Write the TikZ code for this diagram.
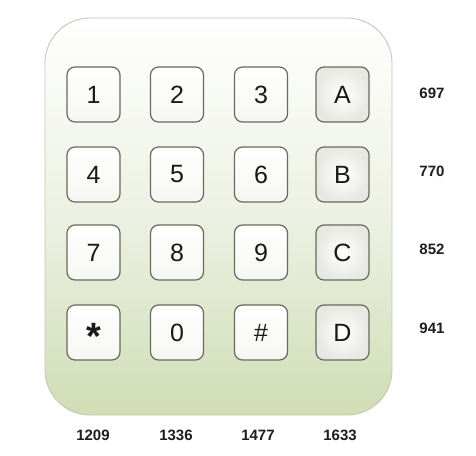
\documentclass[tikz,border=0pt]{standalone}
\usepackage{fontspec}
\setmainfont{Liberation Sans}
\begin{document}
\begin{tikzpicture}[x=1pt,y=-1pt,
  keybox/.style={draw={rgb,255:red,105;green,105;blue,95},line width=1.2pt,rounded corners=8pt,
    minimum width=53pt,minimum height=55pt,inner sep=0pt,font=\fontsize{25}{25}\selectfont,
    text={rgb,255:red,25;green,25;blue,25},
    top color=white,bottom color={rgb,255:red,246;green,246;blue,242}},
  letterkey/.style={keybox,inner color=white,outer color={rgb,255:red,232;green,232;blue,226}},
  freq/.style={font=\bfseries\fontsize{15}{15}\selectfont,text={rgb,255:red,30;green,30;blue,30}}]
\useasboundingbox (0,0) rectangle (476,455);
\fill[white] (0,0) rectangle (476,455);
\node[draw={rgb,255:red,195;green,200;blue,180},line width=0.9pt,rounded corners=45pt,
  minimum width=347pt,minimum height=397pt,
  top color=white,bottom color={rgb,255:red,208;green,221;blue,182},
  middle color={rgb,255:red,236;green,241;blue,226}] (pad) at (218.5,216.5) {};
\foreach \t/\n/\x/\y in {1/k1/93.5/94.5, 2/k2/177/94.5, 3/k3/261/94.5,
  4/k4/93.5/174.5, 5/k5/177/174.5, 6/k6/261/174.5,
  7/k7/93.5/252.5, 8/k8/177/252.5, 9/k9/261/252.5,
  0/k0/177/332.5, \#/kh/261/332.5}
  \node[keybox] (\n) at (\x,\y) {\t};
\node[keybox] (ks) at (93.5,332.5) {};
\node[inner sep=0pt,font=\bfseries\fontsize{38}{38}\selectfont,text={rgb,255:red,25;green,25;blue,25}]
  (star) at ([yshift=-4pt]ks.center) {*};
\foreach \t/\n/\y in {A/kA/94.5, B/kB/174.5, C/kC/252.5, D/kD/332.5}
  \node[letterkey] (\n) at (342.5,\y) {\t};
\node[freq] (r1) at (432,93) {697};
\node[freq] (r2) at (432,171) {770};
\node[freq] (r3) at (432,249) {852};
\node[freq] (r4) at (432,328) {941};
\node[freq] (c1) at (93,435) {1209};
\node[freq] (c2) at (176,435) {1336};
\node[freq] (c3) at (258,435) {1477};
\node[freq] (c4) at (340,435) {1633};
\end{tikzpicture}
\end{document}
